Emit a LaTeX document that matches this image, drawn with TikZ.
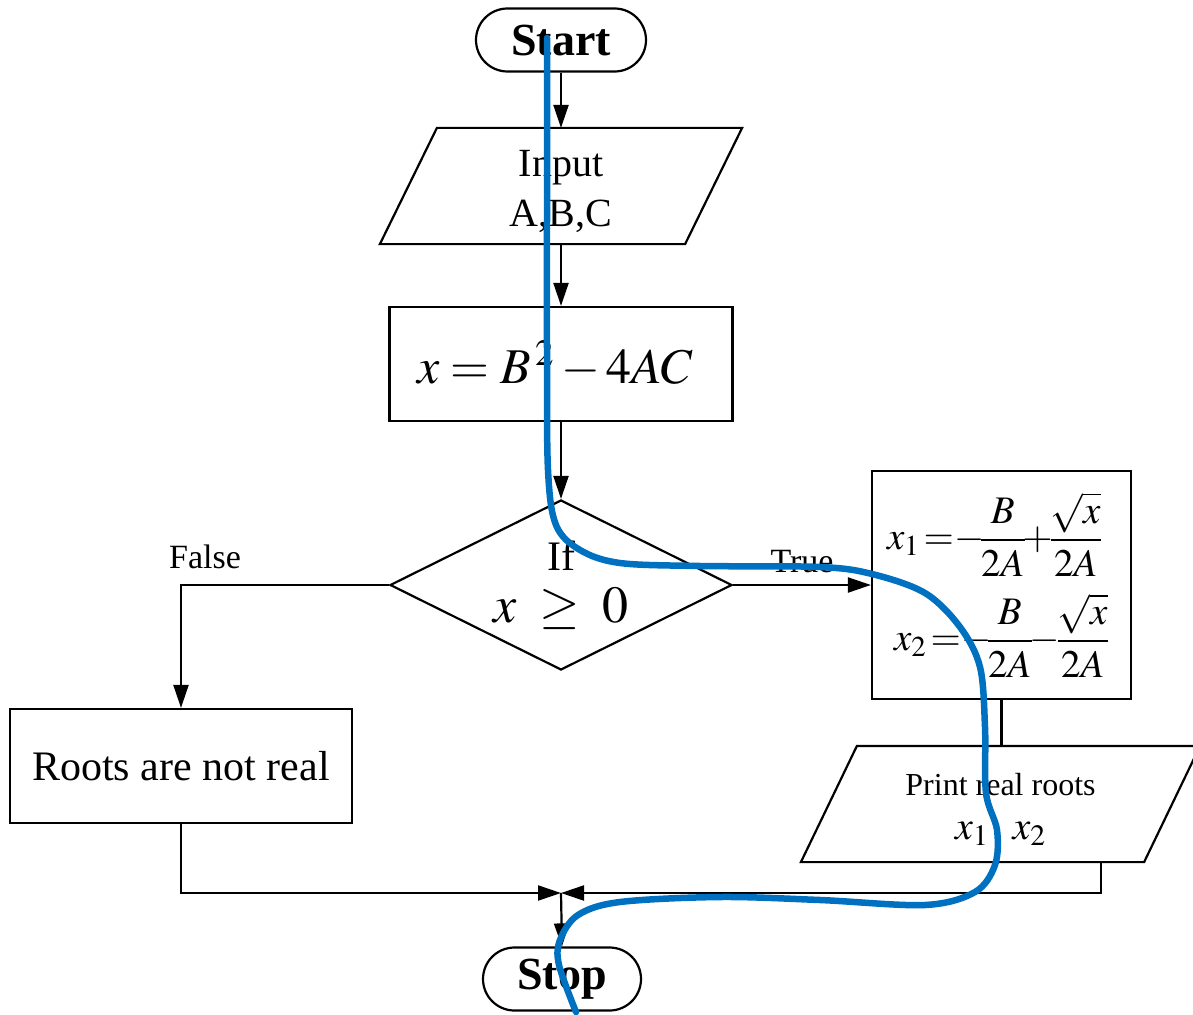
\documentclass[tikz,border=0pt]{standalone}
\usepackage{amsmath}
\usepackage{mathptmx}
\usepackage{fontspec}
\setmainfont{Liberation Serif}
\usepackage{tikz}
\usetikzlibrary{arrows.meta,positioning,shapes.geometric,shapes.misc}
\definecolor{penblue}{RGB}{0,112,192}
\newcommand{\lowered}[2]{\raisebox{-#1pt}[0pt][0pt]{#2}}

\begin{document}
\begin{tikzpicture}[x=1pt, y=-1pt, line width=2.2pt,
  terminal/.style={draw, rounded rectangle, minimum height=63pt, inner sep=0pt,
    font=\fontsize{46}{50}\selectfont\bfseries},
  iobody/.style={minimum height=114pt, inner sep=0pt, align=center},
  process/.style={draw, rectangle, minimum width=343pt, minimum height=114pt, inner sep=0pt},
  decision/.style={draw, diamond, aspect=2, minimum width=342pt, minimum height=170pt,
    inner sep=0pt, align=center},
  flow/.style={-{Triangle[length=23pt,width=15pt]}},
  edgelabel/.style={font=\fontsize{34}{38}\selectfont},
  stroke/.style={draw=penblue, line width=6.5pt, line cap=round, line join=round}
]
  \useasboundingbox (0,0) rectangle (1193,1014);

  % Flow chart boxes
  \node[terminal, minimum width=170pt] (start) at (561,40) {Start};
  \node[iobody, minimum width=303pt, font=\fontsize{40}{50}\selectfont] (input) at (561,186)
    {\lowered{15}{Input}\\\lowered{15}{A,B,C}};
  \node[process, font=\fontsize{50}{54}\selectfont] (disc) at (561,364)
    {\hspace*{-12pt}$x = B^{\,2} - 4AC$};
  \node[decision, font=\fontsize{42}{50}\selectfont] (cond) at (561,585)
    {If\\[2pt] {\fontsize{52}{56}\selectfont$x\;\geq\;0$}};
  \node[process, minimum width=342pt, font=\fontsize{42}{46}\selectfont] (noroots) at (181,766) {Roots are not real};
  \node[draw, minimum width=259pt, minimum height=228pt, inner sep=0pt, align=center,
    font=\fontsize{39}{44}\selectfont] (roots) at (1001.5,585)
    {\hspace*{-14pt}$\displaystyle x_1\!=\!\!-\!\frac{B}{2A}\!\!+\!\!\frac{\sqrt{x}}{2A}$\\[16pt]
     $\displaystyle x_2\!=\!\!-\!\frac{B}{2A}\!\!-\!\!\frac{\sqrt{x}}{2A}$};
  \node[iobody, minimum width=341pt, font=\fontsize{32}{44}\selectfont] (print) at (1000.5,804)
    {\lowered{13}{Print real roots}\\\lowered{13}{\fontsize{40}{44}\selectfont$x_{1}\,,\,x_{2}$}};
  \node[terminal, minimum width=158pt] (stop) at (562,979) {Stop};

  % Parallelogram outlines round the input and output texts
  \foreach \io/\sl in {input/28.5, print/28} {
    \draw ([xshift=-\sl pt]\io.south west) -- ([xshift=\sl pt]\io.north west)
      -- ([xshift=\sl pt]\io.north east) -- ([xshift=-\sl pt]\io.south east) -- cycle;
  }

  % Branch labels
  \node[edgelabel] (false) at (205,557) {False};
  \node[edgelabel] (true) at (802,562) {True};

  % Connectors
  \coordinate (printout) at (1101,861);
  \coordinate (join) at (561,893);
  \draw[flow] (start.south) -- (input.north);
  \draw[flow] (input.south) -- (disc.north);
  \draw[flow] (disc.south) -- (cond.north);
  \draw[flow] (cond.west) -| (noroots.north);
  \draw[flow] (cond.east) -- (roots.west);
  \draw (roots.south) -- (roots.south |- print.north);
  \draw[flow] (noroots.south) |- (join);
  \draw[flow] (printout) |- (join);
  \draw[flow] (join) -- (stop.north);

  % Pen stroke over the chart
  \draw[stroke] plot[smooth, tension=0.55] coordinates {(547,38) (547,200) (547,350)
    (548,470) (556,525) (580,550) (620,563) (700,566) (820,567) (872,574) (925,593)
    (960,627) (980,667) (985,727) (986,793) (997,830) (995,865) (975,892) (925,905)
    (820,900) (720,897) (620,902) (578,915) (560,940) (559,965) (576,1012)};
\end{tikzpicture}
\end{document}
